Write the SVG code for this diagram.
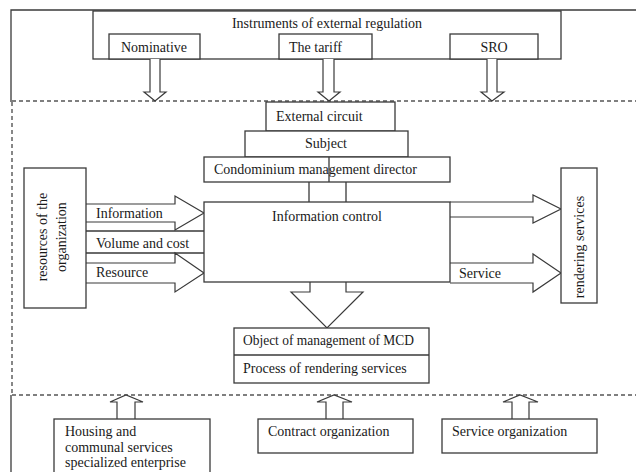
<svg xmlns="http://www.w3.org/2000/svg" width="636" height="472" viewBox="0 0 636 472">
<style>
.b{fill:#fff;stroke:#3a3a3a;stroke-width:1.3}
.l{fill:none;stroke:#3a3a3a;stroke-width:1.3}
.a{fill:#fff;stroke:#3a3a3a;stroke-width:1.2;stroke-linejoin:miter}
.d{fill:none;stroke:#555;stroke-width:1.4;stroke-dasharray:4 3}
text{font-family:"Liberation Serif","Times New Roman",serif;font-size:14px;fill:#1a1a1a}
.m{text-anchor:middle}
</style>
<rect width="636" height="472" fill="#fff"/>
<g id="frame">
<path class="l" d="M11,102 V10 H636"/>
<path class="l" d="M11,395 V472"/>
<path class="d" d="M12,101 H636 M12,395 H636 M12,102 V395"/>
</g>
<g id="instruments">
<rect class="b" x="93" y="11" width="468" height="48"/>
<text class="m" x="327" y="28">Instruments of external regulation</text>
</g>
<g id="nominative">
<rect class="b" x="109" y="34" width="91" height="25"/>
<text class="m" x="154" y="52">Nominative</text>
</g>
<g id="tariff">
<rect class="b" x="279" y="34" width="93" height="25"/>
<text x="289" y="52">The tariff</text>
</g>
<g id="sro">
<rect class="b" x="450" y="34" width="88" height="25"/>
<text class="m" x="494" y="52">SRO</text>
</g>
<g id="connectors">
<polyline class="a" points="150,59 150,92 144,92 155,101 166,92 160,92 160,59"/>
<polyline class="a" points="323,59 323,92 318,92 329,101 340,92 334,92 334,59"/>
<polyline class="a" points="487,59 487,92 481,92 492,101 504,92 497,92 497,59"/>
<path class="l" d="M309,182 V202 M346,182 V202"/>
<polyline class="a" points="310,282 310,292 291,292 327,328 363,292 346,292 346,282"/>
<polyline class="a" points="86,204 175,204 175,196 204,213 175,230 175,222 86,222"/>
<path class="l" d="M86,231 H204 M86,253 H204"/>
<polyline class="a" points="86,263 175,263 175,253 204,273 175,292 175,283 86,283"/>
<polyline class="a" points="450,202 533,202 533,195 561,209 533,223 533,217 450,217"/>
<polyline class="a" points="450,263 533,263 533,254 561,273 533,292 533,283 450,283"/>
<polyline class="a" points="117,419 117,402 110,402 126,395 143,402 135,402 135,419"/>
<polyline class="a" points="326,419 326,402 317,402 334,395 352,402 343,402 343,419"/>
<polyline class="a" points="512,419 512,402 503,402 520,395 538,402 529,402 529,419"/>
</g>
<g id="external-circuit">
<rect class="b" x="266" y="102" width="129" height="29"/>
<text x="276" y="121">External circuit</text>
</g>
<g id="subject">
<rect class="b" x="245" y="131" width="163" height="26"/>
<text class="m" x="326" y="148">Subject</text>
</g>
<g id="director">
<rect class="b" x="204" y="157" width="246" height="25"/>
<line class="l" x1="329" y1="157" x2="329" y2="182"/>
<text x="214" y="174">Condominium management director</text>
</g>
<g id="information-control">
<rect class="b" x="204" y="202" width="246" height="80"/>
<text class="m" x="327" y="221">Information control</text>
</g>
<g id="flow-labels">
<text x="96" y="218">Information</text>
<text x="96" y="248">Volume and cost</text>
<text x="96" y="277">Resource</text>
<text x="459" y="278">Service</text>
</g>
<g id="resources">
<rect class="b" x="24" y="168" width="62" height="140"/>
<text class="m" x="47" y="237" transform="rotate(-90 47 237)">resources of the</text>
<text class="m" x="66" y="237" transform="rotate(-90 66 237)">organization</text>
</g>
<g id="rendering">
<rect class="b" x="561" y="168" width="36" height="135"/>
<text class="m" x="584" y="247" transform="rotate(-90 584 247)">rendering services</text>
</g>
<g id="object">
<rect class="b" x="234" y="328" width="195" height="55"/>
<line class="l" x1="234" y1="355" x2="429" y2="355"/>
<text x="243" y="345" textLength="171" lengthAdjust="spacingAndGlyphs">Object of management of MCD</text>
<text x="243" y="373">Process of rendering services</text>
</g>
<g id="housing">
<rect class="b" x="54" y="419" width="156" height="62"/>
<text x="65" y="436">Housing and</text>
<text x="65" y="452">communal services</text>
<text x="65" y="467">specialized enterprise</text>
</g>
<g id="contract">
<rect class="b" x="258" y="419" width="155" height="34"/>
<text x="268" y="436">Contract organization</text>
</g>
<g id="service-org">
<rect class="b" x="442" y="419" width="155" height="34"/>
<text x="452" y="436">Service organization</text>
</g>
</svg>
